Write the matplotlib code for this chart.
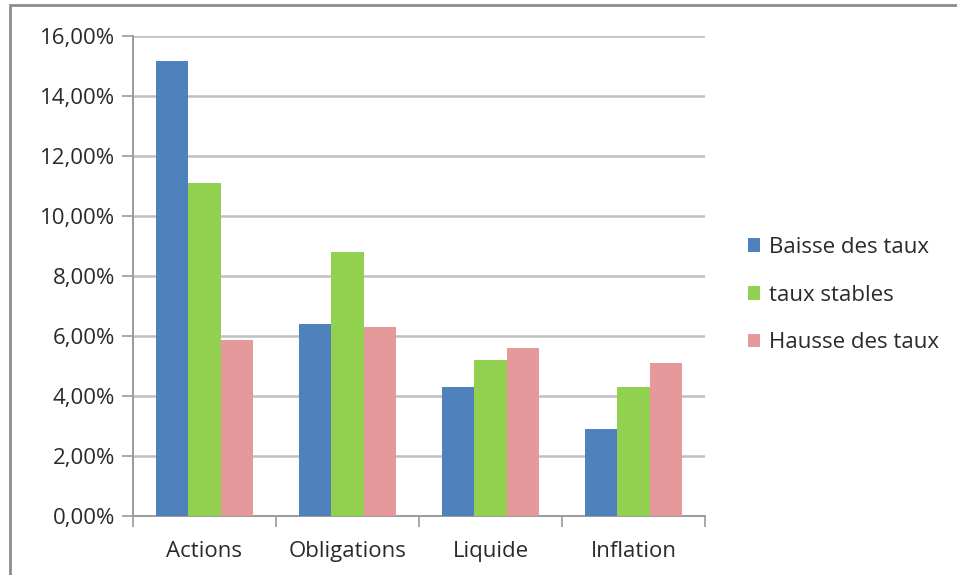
import numpy as np
import matplotlib.pyplot as plt
from matplotlib.patches import Rectangle
from matplotlib.ticker import FuncFormatter, MultipleLocator

# Rendement moyen par classe d'actifs selon l'évolution des taux
categories = ["Actions", "Obligations", "Liquide", "Inflation"]
series_names = ["Baisse des taux", "taux stables", "Hausse des taux"]
baisse = [15.17, 6.40, 4.30, 2.90]
stables = [11.10, 8.80, 5.20, 4.30]
hausse = [5.87, 6.30, 5.60, 5.10]
colors = ["#4F81BD", "#92D050", "#E6999A"]

plt.rcParams['font.family'] = ['Open Sans', 'DejaVu Sans']

fig = plt.figure(figsize=(9.57, 5.75), dpi=100)
ax = fig.add_axes([133 / 957, 1 - 516 / 575, (705 - 133) / 957, (516 - 36) / 575])

# cadre gris autour du graphique
fig.patches.append(Rectangle((10 / 957, -0.01), 1.2, 1 - 5 / 575 + 0.01,
                             transform=fig.transFigure, fill=False,
                             edgecolor="#8c8c8c", linewidth=2))

x = np.arange(len(categories))
w = 0.224
for i, (vals, name) in enumerate(zip([baisse, stables, hausse], series_names)):
    ax.bar(x + (i - 1) * w, vals, width=w, color=colors[i], label=name, zorder=3)

ax.set_xlim(-0.5, len(categories) - 0.5)
ax.set_ylim(0, 16)
ax.yaxis.set_major_locator(MultipleLocator(2))
ax.yaxis.set_major_formatter(FuncFormatter(lambda v, p: f"{v:.2f}%".replace(".", ",")))
ax.grid(axis="y", color="#c0c0c0", linewidth=1.8, zorder=0)

ax.set_xticks(x)
ax.set_xticklabels(categories)
ax.set_xticks(np.arange(len(categories) + 1) - 0.5, minor=True)
ax.tick_params(axis="x", which="major", length=0, pad=18, labelsize=16, labelcolor="#2a2a2a")
ax.tick_params(axis="x", which="minor", length=8, width=1.2, color="#9a9a9a")
ax.tick_params(axis="y", length=8, width=1.2, color="#9a9a9a", pad=5,
               labelsize=16, labelcolor="#2a2a2a")

for side in ["top", "right"]:
    ax.spines[side].set_visible(False)
for side in ["left", "bottom"]:
    ax.spines[side].set_color("#9a9a9a")
    ax.spines[side].set_linewidth(1.4)

ax.legend(loc="center left", bbox_to_anchor=(1.04, 0.46), frameon=False,
          fontsize=16, handlelength=0.55, handleheight=0.55, handletextpad=0.4,
          labelspacing=1.2, labelcolor="#2a2a2a")

fig.savefig("out.png", dpi=100)
